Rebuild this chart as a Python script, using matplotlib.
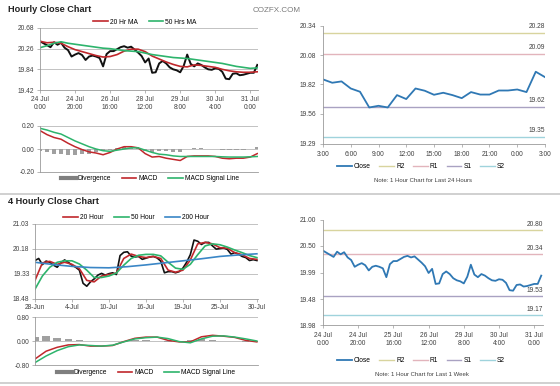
import matplotlib
matplotlib.use('Agg')
import matplotlib.pyplot as plt
import numpy as np
from matplotlib.lines import Line2D

plt.rcParams['font.family'] = ['Liberation Sans', 'DejaVu Sans']

# ---------------- data ----------------
# hourly close 24 Jul 0:00 -> 31 Jul 0:00, one value every 2 hours
close_1w = [20.41, 20.37, 20.33, 20.29, 20.39, 20.34, 20.38, 20.28, 20.23, 20.10,
            20.14, 20.17, 20.13, 20.03, 20.10, 20.12, 20.10, 20.07, 19.90, 20.15,
            20.21, 20.21, 20.25, 20.29, 20.31, 20.28, 20.30, 20.24, 20.18, 20.11,
            19.98, 20.06, 19.77, 19.78, 19.96, 20.01, 19.96, 19.88, 19.84, 19.82,
            19.78, 19.91, 20.14, 19.95, 19.90, 19.96, 19.93, 19.88, 19.84, 19.83,
            19.86, 19.85, 19.79, 19.65, 19.64, 19.75, 19.76, 19.72, 19.73, 19.75,
            19.77, 19.77, 19.93]
# moving averages / macd on the hourly chart, one value every 4 hours
ma20_1h = [20.41, 20.38, 20.39, 20.37, 20.30, 20.24, 20.20, 20.16, 20.12, 20.09,
           20.10, 20.14, 20.21, 20.25, 20.25, 20.20, 20.11, 20.05, 19.99, 19.94,
           19.90, 19.89, 19.93, 19.92, 19.90, 19.88, 19.84, 19.81, 19.79, 19.78,
           19.78, 19.79]
ma50_1h = [20.28, 20.32, 20.37, 20.40, 20.37, 20.35, 20.33, 20.31, 20.29, 20.27,
           20.26, 20.24, 20.22, 20.21, 20.20, 20.17, 20.14, 20.12, 20.10, 20.08,
           20.07, 20.06, 20.04, 20.02, 20.00, 19.98, 19.96, 19.93, 19.90, 19.88,
           19.86, 19.87]
macd_1h = [0.16, 0.125, 0.10, 0.085, 0.05, 0.02, -0.005, -0.025, -0.035, -0.05,
           -0.03, 0.00, 0.02, 0.02, 0.01, -0.04, -0.07, -0.065, -0.08, -0.09,
           -0.10, -0.065, -0.06, -0.06, -0.06, -0.065, -0.08, -0.085, -0.08, -0.08,
           -0.07, -0.04]
signal_1h = [0.18, 0.165, 0.145, 0.13, 0.10, 0.07, 0.045, 0.02, 0.0, -0.015,
             -0.02, -0.01, 0.0, 0.01, 0.01, -0.01, -0.03, -0.045, -0.05, -0.06,
             -0.065, -0.065, -0.065, -0.065, -0.065, -0.065, -0.068, -0.07, -0.07, -0.07,
             -0.068, -0.065]
div_1h = [-0.02, -0.03, -0.04, -0.04, -0.05, -0.05, -0.045, -0.04, -0.03, -0.02,
          -0.01, 0.005, 0.015, 0.01, 0.005, -0.02, -0.03, -0.02, -0.02, -0.025,
          -0.03, 0.0, 0.005, 0.005, 0.003, 0.0, -0.01, -0.012, -0.01, -0.01,
          -0.002, 0.02]
labels_1h = ['24 Jul\n0:00', '24 Jul\n20:00', '26 Jul\n16:00', '28 Jul\n12:00',
             '29 Jul\n8:00', '30 Jul\n4:00', '31 Jul\n0:00']
labels_1w = ['24 Jul\n0:00', '24 Jul\n20:00', '25 Jul\n16:00', '26 Jul\n12:00',
             '29 Jul\n8:00', '30 Jul\n4:00', '31 Jul\n0:00']

# last 24 hours, hourly
close_24h = [19.865, 19.835, 19.847, 19.784, 19.755, 19.615, 19.63, 19.615, 19.725, 19.69,
             19.784, 19.764, 19.728, 19.746, 19.725, 19.698, 19.752, 19.73, 19.73, 19.766,
             19.766, 19.775, 19.752, 19.933, 19.885]
labels_24h = ['3:00', '6:00', '9:00', '12:00', '15:00', '18:00', '21:00', '0:00', '3:00']
pivots_24h = {'R2': 20.28, 'R1': 20.09, 'S1': 19.62, 'S2': 19.35}
pivots_1w = {'R2': 20.80, 'R1': 20.34, 'S1': 19.53, 'S2': 19.17}

# 4 hourly chart
close_4h = [19.78, 19.85, 19.64, 19.76, 19.72, 19.62, 19.55, 19.70, 19.80, 19.72,
            19.62, 19.55, 19.45, 19.00, 18.90, 19.05, 19.15, 19.28, 19.34, 19.28,
            19.33, 19.36, 19.30, 19.95, 20.06, 20.08, 19.93, 19.90, 19.92, 19.82,
            19.86, 19.90, 19.92, 19.87, 19.76, 19.36, 19.40, 19.40, 19.36, 19.40,
            19.52, 19.72, 19.98, 20.48, 20.44, 20.33, 20.40, 20.40, 20.28, 20.17,
            20.19, 20.21, 20.16, 20.00, 20.05, 20.00, 19.92, 19.88, 19.78, 19.81,
            19.78]
ma20_4h = [19.10, 19.70, 19.75, 19.65, 19.72, 19.65, 19.50, 19.10, 19.05, 19.25,
           19.30, 19.35, 19.85, 20.00, 19.92, 19.88, 19.92, 19.85, 19.45, 19.38,
           19.45, 19.80, 20.35, 20.40, 20.35, 20.22, 20.20, 20.05, 19.98, 19.85,
           19.82]
ma50_4h = [18.80, 19.25, 19.55, 19.72, 19.77, 19.77, 19.66, 19.45, 19.20, 19.20,
           19.25, 19.35, 19.62, 19.85, 19.96, 19.99, 19.99, 19.94, 19.72, 19.52,
           19.48, 19.65, 19.98, 20.28, 20.35, 20.32, 20.24, 20.14, 20.05, 19.95,
           19.88]
ma200_4h = [19.72, 19.64, 19.58, 19.54, 19.53, 19.57, 19.63, 19.70, 19.77, 19.84,
            19.92, 19.97, 20.01]
macd_4h = [-0.60, -0.34, -0.21, -0.13, -0.12, -0.17, -0.17, -0.15, -0.02, 0.09,
           0.13, 0.13, 0.02, -0.03, -0.03, 0.14, 0.19, 0.16, 0.12, 0.02, -0.03]
signal_4h = [-0.72, -0.50, -0.32, -0.19, -0.13, -0.15, -0.17, -0.14, -0.03, 0.07,
             0.11, 0.13, 0.08, -0.02, -0.06, 0.07, 0.16, 0.17, 0.13, 0.07, 0.0]
div_4h = [0.12, 0.16, 0.10, 0.06, 0.02, 0.0, 0.0, -0.01, 0.01, 0.02,
          0.02, 0.0, -0.04, -0.01, 0.03, 0.06, 0.03, -0.01, -0.01, -0.04, -0.03]
labels_4h = ['28-Jun', '4-Jul', '10-Jul', '16-Jul', '19-Jul', '25-Jul', '30-Jul']

# ---------------- colours ----------------
RED = '#c0282c'
GREEN = '#2db46c'
BLUE = '#3a86c6'
CLOSE = '#2f78b4'
GREY = '#7f7f7f'
piv_col = {'R2': '#d8d49e', 'R1': '#e2b4bc', 'S1': '#a9a2c2', 'S2': '#9fd3dc'}
FS = 4.8

W, H = 560, 386
fig = plt.figure(figsize=(W / 100, H / 100), dpi=100)


def box(x0, y0, x1, y1):
    # pixel box (top-left origin) -> figure fraction
    return [x0 / W, 1 - y1 / H, (x1 - x0) / W, (y1 - y0) / H]


def style(ax, grid=True, pad=2):
    for s in ['top', 'right']:
        ax.spines[s].set_visible(False)
    for s in ['left', 'bottom']:
        ax.spines[s].set_color('#9a9a9a')
        ax.spines[s].set_linewidth(0.6)
    ax.tick_params(labelsize=FS, colors='#9a9a9a', labelcolor='#404040',
                   length=2, width=0.5, pad=pad)
    if grid:
        ax.yaxis.grid(True, color='#b8b8b8', lw=0.6)
    ax.set_axisbelow(True)


def leg(handles, labels, x, y, spacing=1.6):
    fig.legend(handles, labels, loc='center', bbox_to_anchor=(x / W, 1 - y / H),
               ncol=len(handles), frameon=False, fontsize=FS, handlelength=2.2,
               columnspacing=spacing, handletextpad=0.3, borderpad=0)


def ln(c, w=1.2):
    return Line2D([], [], color=c, lw=w)


# ---------------- hourly chart (top left) ----------------
x_close = np.arange(len(close_1w)) * 2
x_4 = np.arange(len(ma20_1h)) * 4

ax = fig.add_axes(box(40, 28, 258, 90))
style(ax)
ax.plot(x_close, close_1w, color='#111111', lw=1.4)
ax.plot(x_4, ma20_1h, color=RED, lw=1.2)
ax.plot(x_4, ma50_1h, color=GREEN, lw=1.2)
ax.set_xlim(0, 124.4)
ax.set_ylim(19.42, 20.68)
ax.set_yticks([19.42, 19.84, 20.26, 20.68])
ax.set_yticklabels(['%.2f' % v for v in [19.42, 19.84, 20.26, 20.68]])
ax.set_xticks(np.arange(len(labels_1h)) * 20)
ax.set_xticklabels(labels_1h, linespacing=1.25)
leg([ln(RED), ln(GREEN)], ['20 Hr MA', '50 Hrs MA'], 145, 22)

ax = fig.add_axes(box(40, 126, 258, 172))
style(ax)
ax.bar(x_4, div_1h, width=2.6, color='#a0a0a0')
ax.plot(x_4, macd_1h, color=RED, lw=1.1)
ax.plot(x_4, signal_1h, color=GREEN, lw=1.1)
ax.set_xlim(0, 124.4)
ax.set_ylim(-0.2, 0.2)
ax.set_yticks([-0.2, 0, 0.2])
ax.set_yticklabels(['-0.20', '0.00', '0.20'])
ax.set_xticks([])
leg([ln(GREY, 3), ln(RED), ln(GREEN)], ['Divergence', 'MACD', 'MACD Signal Line'], 150, 179)

# ---------------- last 24 hours (top right) ----------------
ax = fig.add_axes(box(323, 26, 545, 144))
style(ax, grid=False, pad=3)
for k, v in pivots_24h.items():
    ax.axhline(v, color=piv_col[k], lw=1.0)
    ax.text(24, v + 0.025, '%.2f' % v, ha='right', va='bottom', fontsize=FS, color='#404040')
ax.plot(np.arange(len(close_24h)), close_24h, color=CLOSE, lw=1.3)
ax.set_xlim(0, 24)
ax.set_ylim(19.29, 20.34)
ax.set_yticks([19.29, 19.56, 19.82, 20.08, 20.34])
ax.set_yticklabels(['19.29', '19.56', '19.82', '20.08', '20.34'])
ax.set_xticks(np.arange(len(labels_24h)) * 3)
ax.set_xticklabels(labels_24h)
piv_handles = [ln(CLOSE, 1.3)] + [ln(piv_col[k], 1.0) for k in pivots_24h]
leg(piv_handles, ['Close', 'R2', 'R1', 'S1', 'S2'], 421, 167, spacing=1.3)
fig.text(423 / W, 1 - 180 / H, 'Note: 1 Hour Chart for Last 24 Hours', ha='center',
         va='center', fontsize=4.3, color='#404040')

# ---------------- 4 hourly chart (bottom left) ----------------
x2 = np.arange(len(ma20_4h)) * 2
x5 = np.arange(len(ma200_4h)) * 5
x3 = np.arange(len(macd_4h)) * 3

ax = fig.add_axes(box(35, 224, 258, 298.5))
style(ax)
ax.plot(np.arange(len(close_4h)), close_4h, color='#111111', lw=1.2)
ax.plot(x2, ma20_4h, color=RED, lw=1.2)
ax.plot(x2, ma50_4h, color=GREEN, lw=1.2)
ax.plot(x5, ma200_4h, color=BLUE, lw=1.2)
ax.set_xlim(0, 60.3)
ax.set_ylim(18.48, 21.03)
ax.set_yticks([18.48, 19.33, 20.18, 21.03])
ax.set_yticklabels(['18.48', '19.33', '20.18', '21.03'])
ax.set_xticks(np.arange(len(labels_4h)) * 10)
ax.set_xticklabels(labels_4h)
leg([ln(RED), ln(GREEN), ln(BLUE)], ['20 Hour', '50 Hour', '200 Hour'], 136, 217.5)

ax = fig.add_axes(box(35, 317, 258, 365))
style(ax)
ax.bar(x3, div_4h, width=2.0, color='#a0a0a0')
ax.plot(x3, macd_4h, color=RED, lw=1.1)
ax.plot(x3, signal_4h, color=GREEN, lw=1.1)
ax.set_xlim(0, 60.3)
ax.set_ylim(-0.8, 0.8)
ax.set_yticks([-0.8, 0, 0.8])
ax.set_yticklabels(['-0.80', '0.00', '0.80'])
ax.set_xticks([])
leg([ln(GREY, 3), ln(RED), ln(GREEN)], ['Divergence', 'MACD', 'MACD Signal Line'], 146, 373)

# ---------------- last week (bottom right) ----------------
ax = fig.add_axes(box(323, 220, 543, 325))
style(ax, grid=False, pad=3)
for k, v in pivots_1w.items():
    ax.axhline(v, color=piv_col[k], lw=1.0)
    ax.text(125, v + 0.05, '%.2f' % v, ha='right', va='bottom', fontsize=FS, color='#404040')
ax.plot(x_close, close_1w, color=CLOSE, lw=1.3)
ax.set_xlim(0, 125)
ax.set_ylim(18.98, 21.00)
ax.set_yticks([18.98, 19.48, 19.99, 20.50, 21.00])
ax.set_yticklabels(['18.98', '19.48', '19.99', '20.50', '21.00'])
ax.set_xticks(np.arange(len(labels_1w)) * 20)
ax.set_xticklabels(labels_1w, linespacing=1.25)
leg(piv_handles, ['Close', 'R2', 'R1', 'S1', 'S2'], 421, 361, spacing=1.3)
fig.text(422 / W, 1 - 374 / H, 'Note: 1 Hour Chart for Last 1 Week', ha='center',
         va='center', fontsize=4.3, color='#404040')

# ---------------- titles and separators ----------------
fig.text(8 / W, 1 - 10 / H, 'Hourly Close Chart', fontsize=6.6, weight='bold',
         va='center', color='#222222')
fig.text(8 / W, 1 - 202 / H, '4 Hourly Close Chart', fontsize=6.6, weight='bold',
         va='center', color='#222222')
fig.text(253 / W, 1 - 10 / H, 'COZFX.COM', fontsize=5.8, va='center', color='#7a7a7a')
for yy in [194, 383]:
    fig.add_artist(Line2D([0, 1], [1 - yy / H, 1 - yy / H], transform=fig.transFigure,
                          color='#c8c8c8', lw=1.2))

fig.savefig('out.png', dpi=100)
